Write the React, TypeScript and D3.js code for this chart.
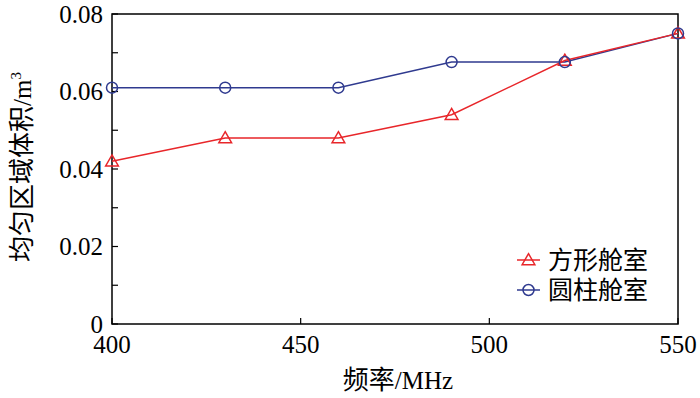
import React, { useEffect, useRef } from 'react';
import * as d3 from 'd3';

// frequencies (MHz)
const freqs = [400, 430, 460, 490, 520, 550];
// uniform region volume (m^3)
const squareCabin = [0.042, 0.048, 0.048, 0.054, 0.068, 0.075];
const cylinderCabin = [0.061, 0.061, 0.061, 0.0676, 0.0676, 0.075];
const xTicks = [400, 450, 500, 550];
const yTicks = [0, 0.02, 0.04, 0.06, 0.08];
const yMinorTicks = [0.01, 0.03, 0.05, 0.07];
const seriesNames = ['方形舱室', '圆柱舱室'];

const RED = '#e8262a';
const BLUE = '#2f3a8f';
const FONT = 'Liberation Serif, DejaVu Serif, serif';
const CJK = 'Noto Sans CJK SC, sans-serif';

const App = () => {
  const svgRef = useRef<SVGSVGElement>(null);

  useEffect(() => {
    const svg = d3.select(svgRef.current);
    svg.selectAll('*').remove();

    const margin = { top: 14, right: 22, bottom: 74, left: 112 };
    const width = 700 - margin.left - margin.right;
    const height = 398 - margin.top - margin.bottom;

    const x = d3.scaleLinear().domain([400, 550]).range([0, width]);
    const y = d3.scaleLinear().domain([0, 0.08]).range([height, 0]);

    const g = svg.append('g').attr('transform', `translate(${margin.left},${margin.top})`);

    // frame
    g.append('rect')
      .attr('width', width)
      .attr('height', height)
      .attr('fill', 'none')
      .attr('stroke', '#000')
      .attr('stroke-width', 1.5);

    // y ticks (inward), majors and minors
    g.selectAll('line.yt')
      .data(yTicks.concat(yMinorTicks))
      .enter()
      .append('line')
      .attr('x1', 0)
      .attr('x2', 6)
      .attr('y1', (d) => y(d))
      .attr('y2', (d) => y(d))
      .attr('stroke', '#000')
      .attr('stroke-width', 1.2);

    g.selectAll('text.ylab')
      .data(yTicks)
      .enter()
      .append('text')
      .attr('x', -9)
      .attr('y', (d) => y(d) + 8.5)
      .attr('text-anchor', 'end')
      .style('font-family', FONT)
      .attr('font-size', 25)
      .text((d) => (d === 0 ? '0' : d3.format('.2f')(d)));

    // x ticks (inward)
    g.selectAll('line.xt')
      .data(xTicks)
      .enter()
      .append('line')
      .attr('x1', (d) => x(d))
      .attr('x2', (d) => x(d))
      .attr('y1', height)
      .attr('y2', height - 6)
      .attr('stroke', '#000')
      .attr('stroke-width', 1.2);

    g.selectAll('text.xlab')
      .data(xTicks)
      .enter()
      .append('text')
      .attr('x', (d) => x(d))
      .attr('y', height + 29)
      .attr('text-anchor', 'middle')
      .style('font-family', FONT)
      .attr('font-size', 25)
      .text((d) => d);

    // axis titles
    const xTitle = svg.append('text')
      .attr('x', 398)
      .attr('y', 389)
      .attr('text-anchor', 'middle')
      .attr('font-size', 26);
    xTitle.append('tspan').style('font-family', CJK).text('频率');
    xTitle.append('tspan').style('font-family', FONT).attr('font-size', 25).text('/MHz');

    const yTitle = svg.append('text')
      .attr('transform', 'translate(31,167) rotate(-90)')
      .attr('text-anchor', 'middle')
      .attr('font-size', 26);
    yTitle.append('tspan').style('font-family', CJK).text('均匀区域体积');
    yTitle.append('tspan').style('font-family', FONT).attr('font-size', 25).text('/m');
    yTitle.append('tspan').style('font-family', FONT).attr('font-size', 15).attr('dy', -10).text('3');

    const line = d3.line<number>()
      .x((_, i) => x(freqs[i]))
      .y((d) => y(d));

    const tri = d3.symbol().type(d3.symbolTriangle).size(70);

    const drawTri = (sel: any, cx: number, cy: number) =>
      sel.append('path')
        .attr('d', tri())
        .attr('transform', `translate(${cx},${cy + 1})`)
        .attr('fill', 'none')
        .attr('stroke', RED)
        .attr('stroke-width', 1.5);
    const drawCirc = (sel: any, cx: number, cy: number) =>
      sel.append('circle')
        .attr('cx', cx)
        .attr('cy', cy)
        .attr('r', 5.5)
        .attr('fill', 'none')
        .attr('stroke', BLUE)
        .attr('stroke-width', 1.5);

    // blue series
    g.append('path')
      .datum(cylinderCabin)
      .attr('d', line)
      .attr('fill', 'none')
      .attr('stroke', BLUE)
      .attr('stroke-width', 1.5);
    // red series
    g.append('path')
      .datum(squareCabin)
      .attr('d', line)
      .attr('fill', 'none')
      .attr('stroke', RED)
      .attr('stroke-width', 1.5);

    squareCabin.forEach((v, i) => drawTri(g, x(freqs[i]), y(v)));
    cylinderCabin.forEach((v, i) => drawCirc(g, x(freqs[i]), y(v)));

    // legend
    const legend = svg.append('g').attr('transform', 'translate(517,260)');
    const colors = [RED, BLUE];
    seriesNames.forEach((name, i) => {
      const ly = i * 30;
      legend.append('line')
        .attr('x1', 0)
        .attr('x2', 23)
        .attr('y1', ly)
        .attr('y2', ly)
        .attr('stroke', colors[i])
        .attr('stroke-width', 1.5);
      if (i === 0) drawTri(legend, 11.5, ly);
      else drawCirc(legend, 11.5, ly);
      legend.append('text')
        .attr('x', 31)
        .attr('y', ly + 9)
        .style('font-family', CJK)
        .attr('font-size', 25)
        .text(name);
    });
  }, []);

  return (
    <svg
      ref={svgRef}
      width={700}
      height={398}
      style={{ position: 'absolute', left: 0, top: 0, background: '#fff' }}
    />
  );
};

export default App;
